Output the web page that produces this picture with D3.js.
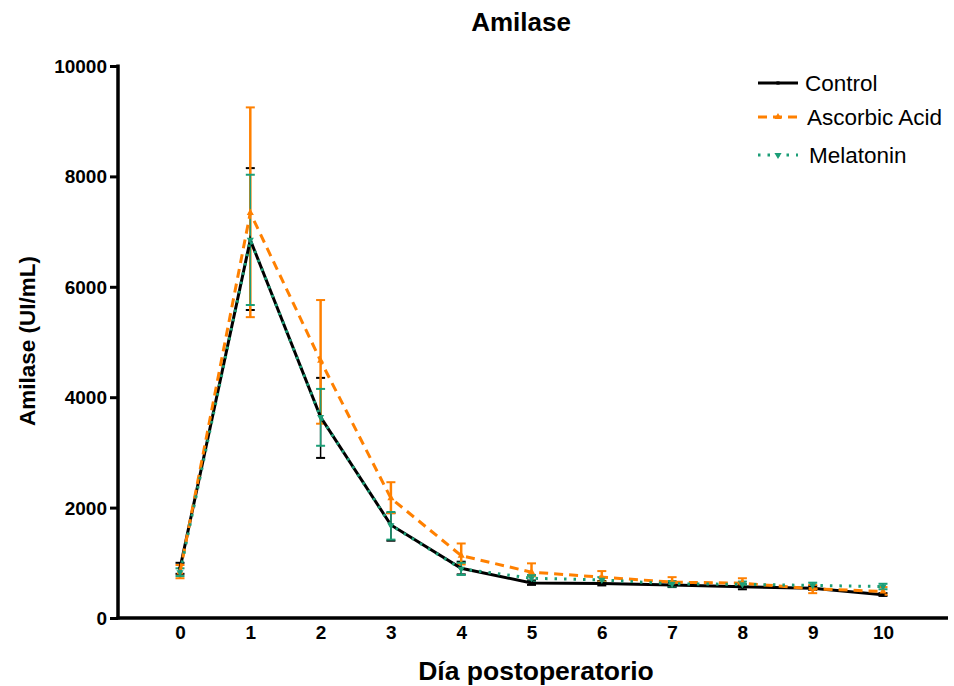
<!DOCTYPE html>
<html><head><meta charset="utf-8">
<script src="https://cdn.jsdelivr.net/npm/d3@7"></script>
<style>body{margin:0;background:#fff;} text{font-family:"Liberation Sans",Arial,sans-serif;}</style>
</head><body><svg id="c" width="954" height="686"></svg>
<script>
const days = [0,1,2,3,4,5,6,7,8,9,10];
const yTicks = [0,2000,4000,6000,8000,10000];
const controlMean = [900,6850,3640,1685,900,635,625,600,565,540,420];
const controlLo   = [800,5580,2900,1400,790,600,590,560,520,510,400];
const controlHi   = [1000,8150,4350,1900,1020,680,670,640,610,580,450];
const acidMean = [830,7340,4660,2170,1130,830,740,650,630,530,480];
const acidLo   = [720,5450,3520,1900,970,760,660,600,580,450,420];
const acidHi   = [960,9250,5760,2460,1350,990,850,740,720,600,560];
const melMean = [830,6850,3640,1680,890,720,690,620,610,590,570];
const melLo   = [760,5670,3120,1420,780,660,640,570,560,540,520];
const melHi   = [900,8030,4150,1920,1000,780,740,670,660,640,620];

const svg = d3.select("#c");
const x = d3.scaleLinear().domain([0,10]).range([180,883]);
const y = d3.scaleLinear().domain([0,10000]).range([618,66]);
const left = 118, right = 948;

const series = [
  {name:"Control", mean:controlMean, lo:controlLo, hi:controlHi, color:"#000000", dash:null, barW:1.5, sym:d3.symbolSquare, rot:0, size:10},
  {name:"Ascorbic Acid", mean:acidMean, lo:acidLo, hi:acidHi, color:"#FF8000", dash:"9,6", barW:2.5, sym:d3.symbolTriangle, rot:0, size:22},
  {name:"Melatonin", mean:melMean, lo:melLo, hi:melHi, color:"#1B9E77", dash:"2.5,7", barW:1.5, sym:d3.symbolTriangle, rot:180, size:22}
];

// axes
const yAxis = d3.axisLeft(y).tickValues(yTicks).tickSize(8).tickPadding(3).tickFormat(d3.format("d"));
const gy = svg.append("g").attr("transform",`translate(${left},0)`).call(yAxis);
gy.select(".domain").remove();
gy.selectAll(".tick line").attr("stroke","#000").attr("stroke-width",3);
gy.selectAll(".tick text").attr("font-size",19).attr("font-weight","bold").attr("fill","#000").attr("dy","0.34em");
svg.append("line").attr("x1",left).attr("x2",left).attr("y1",y(10000)-1.5).attr("y2",y(0)+1.5).attr("stroke","#000").attr("stroke-width",3.5);

const xAxis = d3.axisBottom(x).tickValues(days).tickSize(0).tickPadding(8).tickFormat(d3.format("d"));
const gx = svg.append("g").attr("transform",`translate(0,${y(0)})`).call(xAxis);
gx.select(".domain").remove();
gx.selectAll(".tick text").attr("font-size",19).attr("font-weight","bold").attr("fill","#000");
svg.append("line").attr("x1",left-1.5).attr("x2",right).attr("y1",y(0)).attr("y2",y(0)).attr("stroke","#000").attr("stroke-width",3.5);

// error bars (behind lines)
series.forEach(s=>{
  const g = svg.append("g");
  days.forEach((d,i)=>{
    g.append("line").attr("x1",x(d)).attr("x2",x(d)).attr("y1",y(s.lo[i])).attr("y2",y(s.hi[i])).attr("stroke",s.color).attr("stroke-width",s.barW);
    [s.lo[i],s.hi[i]].forEach(v=>{
      g.append("line").attr("x1",x(d)-4.5).attr("x2",x(d)+4.5).attr("y1",y(v)).attr("y2",y(v)).attr("stroke",s.color).attr("stroke-width",2);
    });
  });
});

// lines
const line = d3.line().x((d,i)=>x(days[i])).y(d=>y(d));
series.forEach(s=>{
  svg.append("path").datum(s.mean).attr("d",line).attr("fill","none").attr("stroke",s.color)
    .attr("stroke-width",3).attr("stroke-dasharray",s.dash);
  svg.append("g").selectAll("path").data(s.mean).join("path")
    .attr("d",d3.symbol().type(s.sym).size(s.size))
    .attr("transform",(d,i)=>`translate(${x(days[i])},${y(d)}) rotate(${s.rot})`)
    .attr("fill",s.color);
});

// legend
const legY = [83,117,155];
series.forEach((s,i)=>{
  const g = svg.append("g").attr("transform",`translate(0,${legY[i]})`);
  g.append("line").attr("x1",758).attr("x2",798).attr("y1",0).attr("y2",0).attr("stroke",s.color).attr("stroke-width",3).attr("stroke-dasharray",s.dash);
  g.append("path").attr("d",d3.symbol().type(s.sym).size(s.size)).attr("transform",`translate(778,0) rotate(${s.rot})`).attr("fill",s.color);
  g.append("text").attr("x",[805,807,809][i]).attr("y",8).attr("font-size",22.5).attr("fill","#000").text(s.name);
});

// titles
svg.append("text").attr("x",521).attr("y",31).attr("text-anchor","middle").attr("font-size",26).attr("font-weight","bold").text("Amilase");
svg.append("text").attr("x",536).attr("y",680).attr("text-anchor","middle").attr("font-size",26.5).attr("font-weight","bold").text("Día postoperatorio");
svg.append("text").attr("transform","translate(35,341) rotate(-90)").attr("text-anchor","middle").attr("font-size",22.5).attr("font-weight","bold").text("Amilase (UI/mL)");
</script></body></html>
